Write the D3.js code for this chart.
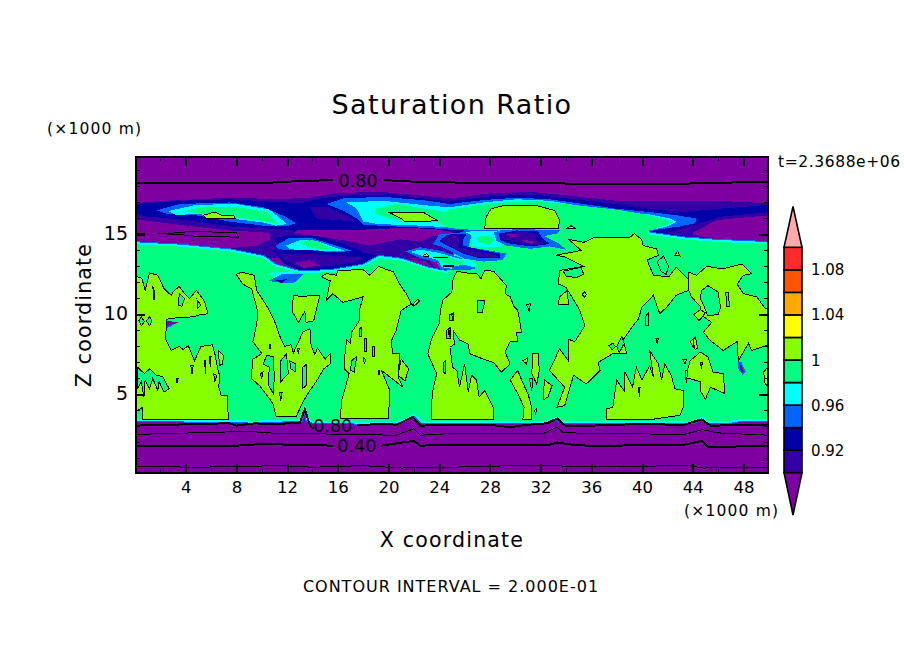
<!DOCTYPE html>
<html><head><meta charset="utf-8">
<script src="https://d3js.org/d3.v7.min.js"></script>
<style>html,body{margin:0;background:#fff}svg{display:block}text{font-family:"DejaVu Sans",sans-serif;fill:#000}</style>
</head><body><svg id="c" width="904" height="654"></svg>
<script>
// ---- colour levels: saturation ratio bands, low to high
const levels=[0.90,0.92,0.94,0.96,0.98,1.00,1.02,1.04,1.06,1.08,1.10];
const levelLabels=[0.92,0.96,1,1.04,1.08];
const bandColors=["#3300A8","#0000A8","#0066FF","#00FFFF","#00FF80","#88FF00","#FFFF00","#FFAA00","#FF5500","#FF2A2A"];
const underColor="#7F00A0",overColor="#FFAAAA";
const xTicks=[4,8,12,16,20,24,28,32,36,40,44,48];
const xMinor=[2,6,10,14,18,22,26,30,34,38,42,46];
const zTicks=[5,10,15];
const zMinor=[1,2,3,4,6,7,8,9,11,12,13,14,16,17,18,19];

// ---- upper dry/wet band, [x km, z km]
const indigoEnvelope=[[0,16.95],[2.2,17.1],[7.5,17.3],[11.4,17.2],[13.8,17.3],[15.9,17.6],[19.6,17.65],[25,17.25],[28.2,17.6],[31.4,17.65],[34,17.45],[38,17.1],[41.9,17.1],[46,17.1],[50,16.95],[50,13.5],[0,13.5]];
const navyBand=[[0,16.9],[3.5,17.1],[7.5,17.2],[10.6,17.05],[13,16.95],[14.5,17.25],[17,17.45],[20,17.5],[24.8,17.05],[28.2,17.4],[31.4,17.5],[34,17.25],[38,16.9],[40.6,16.6],[43.3,16.4],[46,16.6],[50,16.85],[50,16.4],[46.4,16.1],[44.5,15.7],[42,15.1],[36,15],[25,15],[13,15.2],[10.9,15.35],[7.5,15.5],[4,15.9],[1.1,16.1],[0,16.3]];
const indigoGap=[[13.8,16.7],[15.1,16.7],[16.7,16.2],[17.5,15.8],[14.3,16]];
const indigoRight=[[43.6,15.3],[46.1,16.1],[50,16.4],[50,14.5],[43,14.7]];
const tongueLeft=[[0,15.95],[3.5,15.6],[7.5,15.25],[10.6,15.1],[10.7,14.7],[9.6,14.3],[7,14.1],[3.5,14.2],[0,14.5]];
const tongueCentre=[[12.9,15.3],[18,15.3],[21,15.4],[23.5,15.35],[25,15.15],[24.8,14.9],[23.5,14.9],[22.5,14.55],[20.9,14.7],[18.5,14.3],[16.7,14.6],[14.3,14.9],[12.5,15.05]];
const tongueRight=[[44,15.1],[45.9,15.9],[50,16.2],[50,14.5],[45.9,14.7],[44,15]];

const lobeLeftBlue=[[1.7,16.5],[3.5,16.9],[7.5,17],[10.1,16.7],[11.9,16.1],[12.7,15.7],[11.9,15.5],[10.1,15.55],[7.5,15.8],[4.8,16.2],[2.5,16.3]];
const lobeLeftCyan=[[2.6,16.45],[4.8,16.85],[8,16.9],[10.6,16.55],[12,15.65],[11.1,15.55],[10.1,15.75],[7.5,16],[4.8,16.3],[3.3,16.2]];
const lobeLeftGreen=[[3.8,16.45],[5.6,16.75],[8.2,16.7],[10.4,16.4],[11.3,15.65],[10.1,15.85],[7.5,16.1],[4.8,16.35]];
const lobeRightBlue=[[15.1,16.9],[16.4,17.25],[19.6,17.35],[23.2,17.1],[24.8,16.9],[27.5,17.15],[30.1,17.3],[32.7,17.2],[35.4,16.9],[38,16.6],[40.6,16.4],[42.7,16.2],[44.3,16],[44.2,15.7],[43,15.5],[41.2,15.3],[40.1,15.1],[25.6,15.25],[23.2,15.4],[20.6,15.5],[18,15.6],[17.5,16],[16.4,16.5]];
const lobeRightCyan=[[16.7,17],[19.6,17.1],[23.2,16.8],[24.8,16.7],[27.5,17],[30.1,17.2],[32.7,17.1],[35.4,16.75],[38,16.45],[40.6,16.25],[42.2,16],[42.7,15.8],[42,15.5],[40.6,15.25],[25.4,15.4],[22.5,15.55],[19.2,15.65],[18,15.8],[17.5,16.6]];
const lobeRightGreen=[[18.9,16.6],[20.6,16.9],[24.6,16.4],[24.8,16.55],[28.2,16.95],[31.4,17.1],[34,16.9],[38,16.55],[40.6,16.2],[42,15.9],[42.4,15.75],[41.7,15.55],[40.4,15.2],[36.2,15.2],[26.4,15.3],[24.8,15.4],[23.8,15.8],[21.4,15.8],[20.1,16],[18.9,16.3]];

const midLobeNavy=[[10.9,14.7],[11.9,14.95],[14.3,14.9],[16.4,14.45],[18,13.9],[17,13.5],[12,13.7]];
const midLobeBlue=[[11.1,14.3],[12.2,14.8],[13.8,14.8],[15.9,14.3],[17.2,13.95],[15.4,13.9],[13.3,14.05],[12,14],[11.3,14.1]];
const midLobeCyan=[[11.9,14.3],[13,14.65],[14.3,14.6],[15.9,14.15],[16.7,13.95],[14.3,14],[13,14],[12.2,14.1]];
const midLobeGreen=[[13,14.5],[14,14.65],[15.4,14.2],[15.9,14.05],[14.3,14.1],[13.3,14.35]];
const lowerNavy=[[10.9,14],[18,13.85],[19.6,13.6],[18,13.05],[15.4,12.7],[13,12.75],[11.7,13.2]];
const lowerIndigo=[[11.1,13.8],[14.3,13.75],[18,13.55],[17.7,13.3],[15.1,13],[13.3,12.85],[12,13.3]];
const lowerPurple=[[12.6,13.25],[13.8,13.4],[14.6,13.05],[13.3,12.9]];
const rightPatchIndigo=[[20.1,13.6],[23.2,13.4],[23.8,12.8],[22.2,12.85],[20.6,13.3]];
const rightPatchPurple=[[21,13.5],[23,13.3],[23.5,12.85],[22.3,12.95]];
const stripBlue=[[21.3,13.95],[22.5,14.2],[24.3,13.95],[25.8,13.5],[26.6,13.2],[25.6,12.75],[24.1,12.85],[23.8,13.25],[22.2,13.6]];
const stripCyan=[[21.7,13.9],[22.5,14.05],[24,13.85],[25.5,13.5],[26.55,13.4],[26.95,13.05],[25.9,12.75],[24.2,12.95],[23.9,13.4],[22.5,13.7]];
const stripGreen=[[23.4,13.65],[24.6,13.7],[25.2,13.4],[26,13.3],[25.6,13.05],[24.5,13.15],[23.9,13.45]];

// ---- main saturated body (green band)
const mainBody=[[0,14.45],[3.5,14.3],[7.5,14],[10.1,13.6],[11.1,13.05],[13,12.65],[15.4,12.7],[18,13.05],[19.3,13.6],[21.1,13.4],[23.2,12.85],[24.6,12.65],[24.7,12.7],[26,15.1],[36.2,15.3],[40.4,15.25],[40.6,15.05],[43.3,14.75],[45.9,14.6],[50.2,14.45],[50.2,3.42],[48,3.42],[47,3.3],[45.3,3.25],[44.7,3.55],[44,3.25],[36,3.28],[33.6,3.28],[33.2,3.55],[32.5,3.3],[22.6,3.3],[22,3.75],[21.3,3.4],[20,3.2],[14,3.3],[13.6,3.42],[13.4,4.25],[13.1,3.42],[9.5,3.3],[0,3.42]];
const fringePatchBlue=[[10.5,12.1],[11.7,12.55],[13.3,12.55],[12.6,12],[11.7,11.95]];
const fringePatchNavy=[[11,12.15],[12,12.2],[11.6,11.95]];
const fringeTop=[[10.5,12.6],[12.5,12.7],[12.5,12.2],[11,12.3]];

// ---- wet patches on the band around x=24..34
const diagBlue=[[26,15.15],[26.55,14.95],[26.3,14.2],[27.2,14.1],[29.3,13.8],[29,13.4],[27.5,13.3],[25.9,13.5],[24.3,14.2],[23.5,14.4],[24,15]];
const diagNavy=[[25.2,15.05],[26.2,15.05],[25.9,14.7],[25.9,14.3],[27.5,14],[28.8,13.8],[28.8,13.5],[27.2,13.5],[25.9,13.8],[24.6,14.3],[24,14.6],[24.6,14.95]];
const diagIndigo=[[24.85,14.95],[25.6,14.85],[25.5,14.2],[27.5,13.85],[28.7,13.65],[28.3,13.5],[27.1,13.6],[25.9,13.9],[24.6,14.4],[24.2,14.65]];
const cyanPatch=[[26.4,15.2],[28.8,15.25],[29,14.95],[28.8,14.2],[27.2,14.2],[26.55,14.3],[26.55,14.85]];
const greenPatch=[[26.9,14.85],[27.9,14.95],[28.4,14.65],[28,14.35],[27.1,14.5]];
const patchABlue=[[28.3,15.15],[30.1,15.35],[33.5,15.25],[33.3,15.05],[32.3,14.9],[33.5,14.4],[34,14.05],[32.7,14.25],[31.2,14.1],[29.3,14.3],[28.5,14.6]];
const patchANavy=[[28.7,15.05],[30.1,15.25],[31.8,15.2],[32.1,14.8],[32.7,14.4],[31.2,14.25],[29.4,14.45],[28.8,14.65]];
const patchAIndigo=[[28.9,15],[30.1,15.15],[31.5,15.1],[31.7,14.6],[32.3,14.4],[31.2,14.3],[29.8,14.6],[29,14.7]];
const patchAPurple1=[[29.3,15.05],[30.1,15.05],[30.2,14.85],[29.6,14.85]];
const patchAPurple2=[[30.5,14.65],[31.4,14.6],[31.4,14.4],[30.8,14.5]];
const patchEBlue=[[25,13],[26,13.1],[27,12.9],[26.2,12.75],[25,12.75]];
const spotLeftBlue=[[1.7,9.3],[2.2,9.65],[3.4,9.5],[2.7,9.2],[1.9,9.05]];
const spotLeftPurple=[[2.05,9.4],[2.45,9.6],[3.4,9.5],[2.45,9.25]];
const spotRightBlue=[[47.55,7.1],[47.85,7],[48.2,6.4],[47.95,6.2],[47.6,6.6]];
const spotRightPurple=[[47.7,6.85],[47.85,6.8],[48.05,6.4],[47.9,6.35],[47.7,6.6]];

// ---- supersaturated (>1) regions, outlined by the 1.00 contour
const limeA=[[0,12.4],[0.55,12.25],[0.8,11.5],[1.15,12.6],[1.8,12.45],[2.3,11.6],[2.85,11.2],[3.1,11.5],[3.5,11.75],[3.9,11.3],[4.3,11],[4.85,11.5],[5.5,10.8],[5.75,10.05],[4.95,9.95],[4.6,9.85],[3.4,9.8],[2.45,9.7],[2.45,9],[2.4,8.5],[2.85,7.75],[3.5,8],[3.8,7.8],[4.2,8.05],[4.7,7.1],[5.2,8],[6.1,8.1],[6.3,7.55],[6.5,6.7],[6.7,6.1],[6.6,5.5],[6.8,4.95],[7.3,4.95],[7.3,4.2],[7.4,3.42],[0.6,3.42],[0.6,4.2],[0,3.9]];
const limeB=[[8,12.5],[8.4,12.65],[9.4,12.45],[9.6,11.5],[10.1,10.9],[10.6,10.25],[11,9.6],[11.4,8.7],[11.8,8],[12.3,8.1],[12.5,7.6],[13.25,8.9],[13.8,9.1],[13.9,8],[14.2,7.5],[14.4,7.9],[14.7,7.55],[15,7.2],[15.4,7.55],[15.4,6.9],[14.9,6.6],[14.3,5.8],[13.8,5.25],[13.3,4.6],[12.7,3.6],[11.14,3.6],[10.9,4.4],[10.5,4.85],[9.83,5.55],[9.17,6],[9.3,7.2],[10,7.55],[9.3,8.3],[9.5,9],[9.7,9.95],[9.6,10.45],[9.2,11.6],[8.5,11.9]];
const limeC=[[14.7,12.35],[15.1,12.55],[15.9,12.45],[16,12.75],[18,12.8],[18.5,12.45],[19.2,13],[20.4,12.65],[20.8,12],[21.4,11.3],[21.8,10.65],[21,10.25],[20.6,9],[20.2,8.3],[20.35,7.55],[20.9,7.55],[20.75,6.1],[21.15,5.45],[19.45,6.5],[20.1,5.25],[20,3.48],[16.2,3.48],[16.3,4.6],[16.9,6.3],[16.5,6.6],[16.5,7.1],[16.7,8.4],[17,8.2],[17.1,8.9],[17.7,9.6],[17.7,10.25],[18,11.1],[16.4,10.75],[15.6,11.3],[15.1,10.9],[15.4,12.1]];
const limeCFinger=[[21,7.2],[21.6,6.6],[21.3,5.85],[20.75,6.2]];
const limeD=[[12.5,11.2],[13.25,11.1],[13.9,11.2],[14.6,11.2],[14.3,10.3],[14.1,9.6],[13.5,9.5],[13.4,10.2],[12.9,9.5],[12.4,10.2]];
const limeE=[[25.1,12.25],[25.4,12.7],[26,12.6],[26.95,12.55],[27.3,12.25],[27.6,12.75],[28.3,12.7],[29.3,11.8],[29.2,11.3],[29.6,11.1],[29.9,10.5],[30.2,10.25],[30.5,8.9],[30.1,8.9],[30.2,8.3],[29.6,8.3],[29.2,7.65],[29.6,6.9],[28.9,6.4],[28.3,7],[27.5,7.2],[26.4,7.55],[26.3,8.15],[25.6,8.4],[25.1,9],[25.2,8.15],[24.85,7.95],[25.05,6.7],[25.4,6.5],[25.6,5.45],[26,6.9],[26.3,5.15],[26.55,6.2],[26.95,5.9],[27.15,4.85],[27.6,5.25],[28.3,4.1],[28.3,3.42],[23.4,3.42],[23.4,4.4],[23.5,5.25],[23.8,6.3],[23.1,7.55],[23.4,8.5],[24,9.4],[24.1,10.25],[24.3,10.9],[25,11.4]];
const limeF=[[30.6,3.42],[31.3,3.42],[31.3,4.2],[31,5.05],[30.5,5.9],[30.2,6.5],[29.6,5.9],[30.2,5.05],[30.7,4.2]];
const limeG=[[31.3,6.3],[31.4,7.55],[31.8,7.55],[31.9,6.5],[31.7,5.65]];
const limeH=[[32.2,4.65],[32.3,5.9],[32.9,5.55],[32.6,4.85]];
const limeI=[[34.2,14.7],[35.4,14.5],[36.2,14.8],[39,14.8],[39.4,15.05],[39.95,14.7],[40.1,14.3],[41.15,14.1],[41.3,13.7],[40.4,13.4],[40.9,12.45],[42.1,12.35],[42.7,12.95],[43.65,12.2],[43.65,11.5],[42.7,11.2],[41.95,10.45],[41.4,10.05],[40.9,11.2],[40,10.45],[39.7,9.7],[39.3,9.3],[38.5,8.4],[38.8,7.55],[37.7,7.55],[36.55,7],[36.7,6.5],[35.6,5.65],[34.6,6.2],[33.9,4.3],[33.3,4.2],[33.9,5.45],[32.7,6.5],[33.5,7.85],[34.2,7.1],[34.2,8.45],[34.7,8.3],[35.5,9.3],[35.1,10.25],[34.8,10.65],[34,11.7],[33.4,11.9],[33.5,12.75],[35.4,13],[33.9,13.6],[33.2,13.7],[35.2,14]];
const limeJ=[[37.2,3.42],[37.2,4.1],[37.7,4.2],[38,5.9],[38.65,5.15],[38.65,6.4],[39.25,5.45],[39.55,6.7],[40,5.9],[40.6,6.8],[40.9,6.1],[40.6,7.75],[41.3,6.9],[41.55,5.9],[41.8,6.9],[42.3,6.2],[42.6,5.35],[43.25,5.25],[43.25,4.2],[43,3.7],[40.6,3.42]];
const limeK=[[43.4,6],[43.8,7.1],[44.6,7.65],[45.2,7.35],[45.6,6.4],[46.4,6.3],[46.55,5.05],[45.4,5.45],[45,4.7],[44.6,5.25],[44.6,5.8],[43.7,6]];
const limeL=[[43.65,12.65],[44.3,12.45],[45.1,13],[46.4,12.85],[47.9,13.15],[48.65,12.55],[48,12.45],[47.5,11.9],[48,11.3],[49.05,11.1],[49.7,10.4],[50.2,10.4],[50.2,8.15],[48.65,7.75],[48.4,8.2],[47.6,7.1],[47.5,8.3],[46.4,7.75],[45.35,8.4],[44.85,8.9],[45.5,9.5],[44.6,10],[44.6,10.5],[43.9,11.1],[43.65,11.6]];
const limeSmall1=[[33.4,10.65],[33.5,11.1],[34.1,11.5],[34.2,10.6]];
const limeSmall2=[[34.1,15.4],[34.4,15.55],[34.7,15.4]];
const limeSmall3=[[35.3,11.25],[35.45,11.45],[35.6,11.25],[35.45,11.05]];
const limeSmall4=[[42.6,13.7],[42.8,13.95],[43,13.65]];
const limeSmall5=[[21.9,10.6],[22.3,10.95],[22.45,10.85],[22,10.5]];
const limeSmall6=[[49.6,6.4],[50.2,7],[50.2,5.2],[49.7,5.7]];
const limeSmall7=[[44.1,10],[44.6,10.3],[45,10.1],[44.5,9.6]];
const limeSmall8=[[44,8.4],[44.2,8.6],[44.4,7.9],[44.2,7.8]];
const limeSmall9=[[6.6,7.75],[7,7.4],[6.9,6.9],[6.65,6.8]];
const limeSmall10=[[30.6,7.1],[31,7.3],[30.9,6.9]];
const limeSmall11=[[31.5,4],[31.7,4.1],[31.6,3.8]];
const limeSmall12=[[43.2,7.2],[43.5,7.2],[43.4,6.9]];
const limeSmall13=[[43.8,8.3],[44.1,8.5],[44.1,7.9]];
const limeSmall14=[[22.7,13.65],[23,13.8],[23.2,13.65],[23,13.6]];
const holes=[
 [[0.2,6.7],[0.75,6.3],[1.15,6.6],[1.7,6.2],[2.2,6.1],[2.7,5.35],[2.3,5.15],[1.9,5.8],[1.8,5.25],[1.4,6],[1.15,5.35],[0.8,5.9],[0.7,4.85],[0.5,5.8],[0.2,5.35]],
 [[0.3,9.6],[0.5,9.85],[0.75,9.55],[0.5,9.3]],[[0.9,9.6],[1.15,9.85],[1.35,9.6],[1.15,9.3]],
 [[3.5,11.3],[3.9,11],[3.7,10.5],[3.4,10.6]],[[4.9,10.9],[5.2,10.6],[4.95,10.4]],[[1.4,11.8],[1.55,11.4],[1.5,10.9]],
 [[10.1,6.9],[10.4,7.45],[10.9,7.35],[11,6.1],[10.9,5.05],[10.5,5.65],[10.6,6.7]],
 [[11.5,7.1],[11.95,7.55],[12.1,6.3],[11.5,5.8]],[[12.2,7.1],[12.7,6.9],[12.7,6.4],[12.3,6.6]],
 [[13.25,6.7],[13.55,6.9],[13.5,5.55],[13.2,5.35]],[[9.9,6.3],[10.1,6.4],[10,6]],[[11.4,5.1],[11.6,5.1],[11.5,4.6]],
 [[17.1,7.1],[17.5,7.4],[17.3,6.4],[17,6.5]],[[18,7.3],[18.2,7.2],[18.1,6.9]],[[17.7,9.1],[17.9,9.2],[17.9,8.6],[17.7,8.6]],
 [[18.1,8.5],[18.3,8.5],[18.3,7.7],[18.1,7.7]],[[18.7,8],[18.9,8],[18.9,7.4],[18.7,7.4]],
 [[24.6,9],[24.9,9.2],[24.9,8.5],[24.6,8.5]],[[24.85,10],[25.1,10.1],[25.1,9.6],[24.85,9.6]],[[24.3,7],[24.5,7.1],[24.5,6.3],[24.3,6.4]],
 [[27,10.9],[27.6,10.85],[27.4,10.1],[27,10.1]],[[30.9,10.6],[31.2,10.7],[31.1,10.2]],
 [[37.4,8.05],[37.7,8.2],[37.9,7.98],[37.65,7.8]],[[38,8],[38.4,8.6],[38.6,8.2],[38.2,7.6]],
 [[33.8,12.7],[35.2,12.95],[35.4,12.5],[34.8,12.3],[34,12.4]],
 [[41.2,13.3],[41.7,13.65],[42.1,13],[41.9,12.5],[41.5,12.7]],
 [[44.6,11],[44.7,11.5],[45.2,11.8],[46,11.4],[46.2,10.45],[46,10],[45.2,9.9],[44.9,10.5]],
 [[46.6,11.4],[46.8,11.4],[46.9,10.5],[46.7,10.5]],[[40.3,9.9],[40.5,10.1],[40.5,9.3],[40.3,9.3]],
 [[10.6,8.15],[10.7,8.15],[10.65,7.85]],[[12.8,7.85],[12.95,7.85],[12.9,7.55]],[[5.5,7.1],[5.6,7.1],[5.55,6.3]],
 [[5.85,7.35],[6,7.35],[5.95,6.7]],[[6.2,6.3],[6.45,6.2],[6.3,5.8]],[[4.4,6.8],[4.6,6.8],[4.5,6.3]],[[3.25,6],[3.4,6],[3.3,5.7]],
 [[19.2,6.5],[19.3,6.5],[19.25,6.2]],[[25,10],[25.1,10],[25.05,9.6]],[[24.7,9],[24.85,9],[24.8,8.6]],
 [[39.7,5.45],[39.85,5.45],[39.8,4.85]],[[43.4,6.5],[43.6,6.5],[43.5,5.7]],[[44.6,7],[44.75,7],[44.7,6.6]],[[31.1,6],[31.4,6],[31.3,5.25]],[[41.1,8.5],[41.3,8.5],[41.2,8.2]]
];

// ---- line contours, broken where their labels sit
const contourTopA=[[0,18.23],[5,18.2],[10,18.2],[12,18.3],[15.6,18.4]];
const contourTopB=[[19.6,18.4],[22,18.3],[25,18.25],[28,18.2],[33,18.2],[37,18.13],[42,18.15],[50,18.3]];
const contourLoop=[[1.7,15.05],[3.5,15.1],[4.3,15.2],[8,15.1],[8.2,14.8],[6.4,14.9],[4.6,14.9],[3.5,15],[1.7,15.05]];
const contourLeftStub=[[0,15],[0.8,15]];
const contour80A=[[0,3.05],[7.4,3.2],[8,3.05],[9.5,3.2],[10.2,3.15],[12.6,3.2],[13,3.2],[13.4,4.1],[13.8,3.05],[14.1,2.85]];
const contour80B=[[17.5,3.1],[20,3.15],[20.6,3.1],[21.9,3.6],[22.5,3.05],[24.84,3.1],[28,3.1],[29.6,2.95],[30.9,3.1],[32.5,3.2],[33.3,3.5],[34,3],[38,3.1],[39.6,3.15],[43.3,3.1],[44.7,3.45],[45.4,3.05],[50,3.1]];
const contourThinA=[[0,2.5],[9.3,2.7],[10,2.6],[20.6,2.45],[22,2.85],[22.5,2.45],[24.84,2.55],[32.2,2.55],[33.3,2.95],[33.8,2.6],[43.3,2.5],[44.8,2.8],[45.9,2.6],[50,2.45]];
const contour40A=[[0,1.8],[2.2,1.8],[7,1.75],[10,1.9],[15.6,1.8]];
const contour40B=[[19.4,1.8],[22,2.1],[22.5,1.8],[24.84,1.85],[32.7,1.85],[33.3,2],[34.6,1.85],[36.7,1.75],[39.6,1.85],[43.3,1.85],[44.7,2.1],[45.2,1.7],[50,1.8]];
const contourThinB=[[0,0.5],[5,0.45],[11.5,0.55],[14,0.45],[18,0.55],[21,0.4],[24.84,0.45],[30,0.55],[38,0.5],[43.8,0.55],[44.8,0.4],[50,0.45]];
const contourDash1=[[23.5,13.58],[24.7,13.55]];
const contourDash2=[[24.3,13.05],[25.2,13.05]];
const contourLabelText=["0.80","0.80","0.40"];
const contourLabelX=[17.6,15.6,17.5];
const contourLabelZ=[18.35,3.05,1.82];
const lobeLimeA=[[27.6,15.4],[27.7,16.1],[28.1,16.6],[29.1,16.8],[31.7,16.8],[33.1,16.5],[33.5,15.9],[33.4,15.4]];
const lobeLimeB=[[20,16.4],[22.7,16.4],[23.9,15.85],[21.3,15.8],[21,16]];
const lobeLimeC=[[5.4,16.2],[6.3,16.4],[6.8,16.2],[7.8,16.2],[7.9,16],[5.6,16]];

// ---- table built from the arrays above, painted in this order (band: index into bandColors, -1 = below range)
const paint=[
 [0,indigoEnvelope],[1,navyBand],[0,indigoGap],[0,indigoRight],[-1,tongueLeft],[-1,tongueCentre],[-1,tongueRight],
 [2,lobeLeftBlue],[3,lobeLeftCyan],[4,lobeLeftGreen],[2,lobeRightBlue],[3,lobeRightCyan],[4,lobeRightGreen],
 [1,midLobeNavy],[2,midLobeBlue],[3,midLobeCyan],[4,midLobeGreen],[1,lowerNavy],[0,lowerIndigo],[-1,lowerPurple],
 [0,rightPatchIndigo],[-1,rightPatchPurple]
];
const paintAfterBody=[
 [2,diagBlue],[1,diagNavy],[0,diagIndigo],[3,cyanPatch],[4,greenPatch],
 [2,stripBlue],[3,stripCyan],[4,stripGreen],[2,fringePatchBlue],[1,fringePatchNavy],
 [2,patchABlue],[1,patchANavy],[0,patchAIndigo],[-1,patchAPurple1],[-1,patchAPurple2],
 [2,patchEBlue],[2,spotLeftBlue],[-1,spotLeftPurple],[2,spotRightBlue],[-1,spotRightPurple]
];
const limes=[lobeLimeA,lobeLimeB,lobeLimeC,limeA,limeB,limeC,limeCFinger,limeD,limeE,limeF,limeG,limeH,limeI,limeJ,limeK,limeL,limeSmall1,limeSmall2,limeSmall3,limeSmall4,limeSmall5,limeSmall6,limeSmall7,limeSmall8,limeSmall9,limeSmall10,limeSmall11,limeSmall12,limeSmall13,limeSmall14];
const thickLines=[contourTopA,contourTopB,contourLeftStub,contour80A,contour80B,contour40A,contour40B,contourDash2];
const thinLines=[contourThinA,contourThinB,contourLoop,contourDash1];

const svg=d3.select("#c");
const X0=136,X1=768,Y0=473,Y1=157;
const x=d3.scaleLinear().domain([0.08,49.94]).range([X0,X1]);
const z=d3.scaleLinear().domain([0.09,19.84]).range([Y0,Y1]);
const line=d3.line().x(d=>x(d[0])).y(d=>z(d[1]));
const closed=d=>line(d)+"Z";
const col=i=>i<0?underColor:bandColors[i];

svg.append("clipPath").attr("id","plot").append("rect").attr("x",X0).attr("y",Y1).attr("width",X1-X0).attr("height",Y0-Y1);
const g=svg.append("g").attr("clip-path","url(#plot)").attr("shape-rendering","crispEdges");
g.append("rect").attr("x",X0).attr("y",Y1).attr("width",X1-X0).attr("height",Y0-Y1).attr("fill",underColor);
g.selectAll("path.p1").data(paint).join("path").attr("class","p1").attr("d",d=>closed(d[1])).attr("fill",d=>col(d[0]));
g.append("path").attr("d",closed(mainBody)).attr("fill","none").attr("stroke",bandColors[2]).attr("stroke-width",4);
g.append("path").attr("d",closed(mainBody)).attr("fill",bandColors[4]).attr("stroke",bandColors[3]).attr("stroke-width",2);
g.append("path").attr("d",closed(lobeRightGreen)).attr("fill",bandColors[4]);
g.append("path").attr("d",closed(fringeTop)).attr("fill",bandColors[3]);
g.selectAll("path.p2").data(paintAfterBody).join("path").attr("class","p2").attr("d",d=>closed(d[1])).attr("fill",d=>col(d[0]));
g.selectAll("path.lime").data(limes).join("path").attr("class","lime").attr("d",closed).attr("fill",bandColors[5]).attr("stroke","#000");
g.selectAll("path.hole").data(holes).join("path").attr("class","hole").attr("d",closed).attr("fill",bandColors[4]).attr("stroke","#000");
g.selectAll("path.thick").data(thickLines).join("path").attr("class","thick").attr("d",line).attr("fill","none").attr("stroke","#000").attr("stroke-width",2);
g.selectAll("path.thin").data(thinLines).join("path").attr("class","thin").attr("d",line).attr("fill","none").attr("stroke","#000").attr("stroke-width",1);
svg.selectAll("text.cl").data(contourLabelText).join("text").attr("class","cl").attr("x",(d,i)=>x(contourLabelX[i])).attr("y",(d,i)=>z(contourLabelZ[i])+6.5).attr("text-anchor","middle").attr("font-size",17.5).text(d=>d);

// axes and frame
const axG=svg.append("g").attr("shape-rendering","crispEdges");
function ax(gen,tr,vals,size,fmt){const a=axG.append("g").attr("transform",tr).call(gen.tickValues(vals).tickSizeInner(-size).tickSizeOuter(0).tickFormat(fmt));a.select(".domain").remove();a.selectAll("line").attr("stroke","#000").attr("stroke-width",size>4?2:1);return a;}
const none=()=>"";
const xb=ax(d3.axisBottom(x),`translate(0,${Y0})`,xTicks,9,d=>d);
xb.selectAll("text").attr("y",15).attr("dy",0).attr("dominant-baseline","middle").attr("font-size",16.5).attr("fill","#000").attr("font-family","DejaVu Sans");
ax(d3.axisBottom(x),`translate(0,${Y0})`,xMinor,4,none);
ax(d3.axisTop(x),`translate(0,${Y1})`,xTicks,9,none);
ax(d3.axisTop(x),`translate(0,${Y1})`,xMinor,4,none);
const yl=ax(d3.axisLeft(z),`translate(${X0},0)`,zTicks,9,d=>d);
yl.selectAll("text").attr("x",-8).attr("dy",0).attr("dominant-baseline","middle").attr("font-size",19).attr("fill","#000").attr("font-family","DejaVu Sans");
ax(d3.axisLeft(z),`translate(${X0},0)`,zMinor,4,none);
ax(d3.axisRight(z),`translate(${X1},0)`,zTicks,9,none);
ax(d3.axisRight(z),`translate(${X1},0)`,zMinor,4,none);
axG.append("rect").attr("x",X0).attr("y",Y1).attr("width",X1-X0).attr("height",Y0-Y1).attr("fill","none").attr("stroke","#000").attr("stroke-width",2);

// colour bar
const cb=d3.scaleLinear().domain([0.90,1.10]).range([472.7,247.3]);
const BX0=784,BX1=802,BM=793;
const cbG=svg.append("g");
cbG.selectAll("rect").data(d3.pairs(levels)).join("rect").attr("x",BX0).attr("width",BX1-BX0).attr("y",d=>cb(d[1])).attr("height",d=>cb(d[0])-cb(d[1])).attr("fill",(d,i)=>bandColors[i]).attr("stroke","#000").attr("stroke-width",1.6);
cbG.append("path").attr("d",`M${BX0},${cb(1.10)}L${BM},206.5L${BX1},${cb(1.10)}Z`).attr("fill",overColor).attr("stroke","#000").attr("stroke-width",1.6);
cbG.append("path").attr("d",`M${BX0},${cb(0.90)}L${BM},515L${BX1},${cb(0.90)}Z`).attr("fill",underColor).attr("stroke","#000").attr("stroke-width",1.6);
cbG.selectAll("text").data(levelLabels).join("text").attr("x",811).attr("y",d=>cb(d)+5.5).attr("font-size",15).text(d=>d);

// titles
const T=(s,px,py,fs,anchor,ls)=>svg.append("text").attr("x",px).attr("y",py).attr("font-size",fs).attr("text-anchor",anchor||"start").attr("letter-spacing",ls||0).text(s);
T("Saturation Ratio",452,114,27,"middle",1.4);
T("(\u00d71000 m)",47,134,15.5,"start",1.2);
T("(\u00d71000 m)",684,516,15.5,"start",1.2);
T("t=2.3688e+06",778,167,15.5,"start",.6);
T("X coordinate",452,547,20.5,"middle",1.2);
T("CONTOUR INTERVAL = 2.000E-01",451,592,16,"middle",1);
svg.append("text").attr("transform","translate(91,315) rotate(-90)").attr("text-anchor","middle").attr("font-size",20.5).attr("letter-spacing",1.2).text("Z coordinate");
</script></body></html>
